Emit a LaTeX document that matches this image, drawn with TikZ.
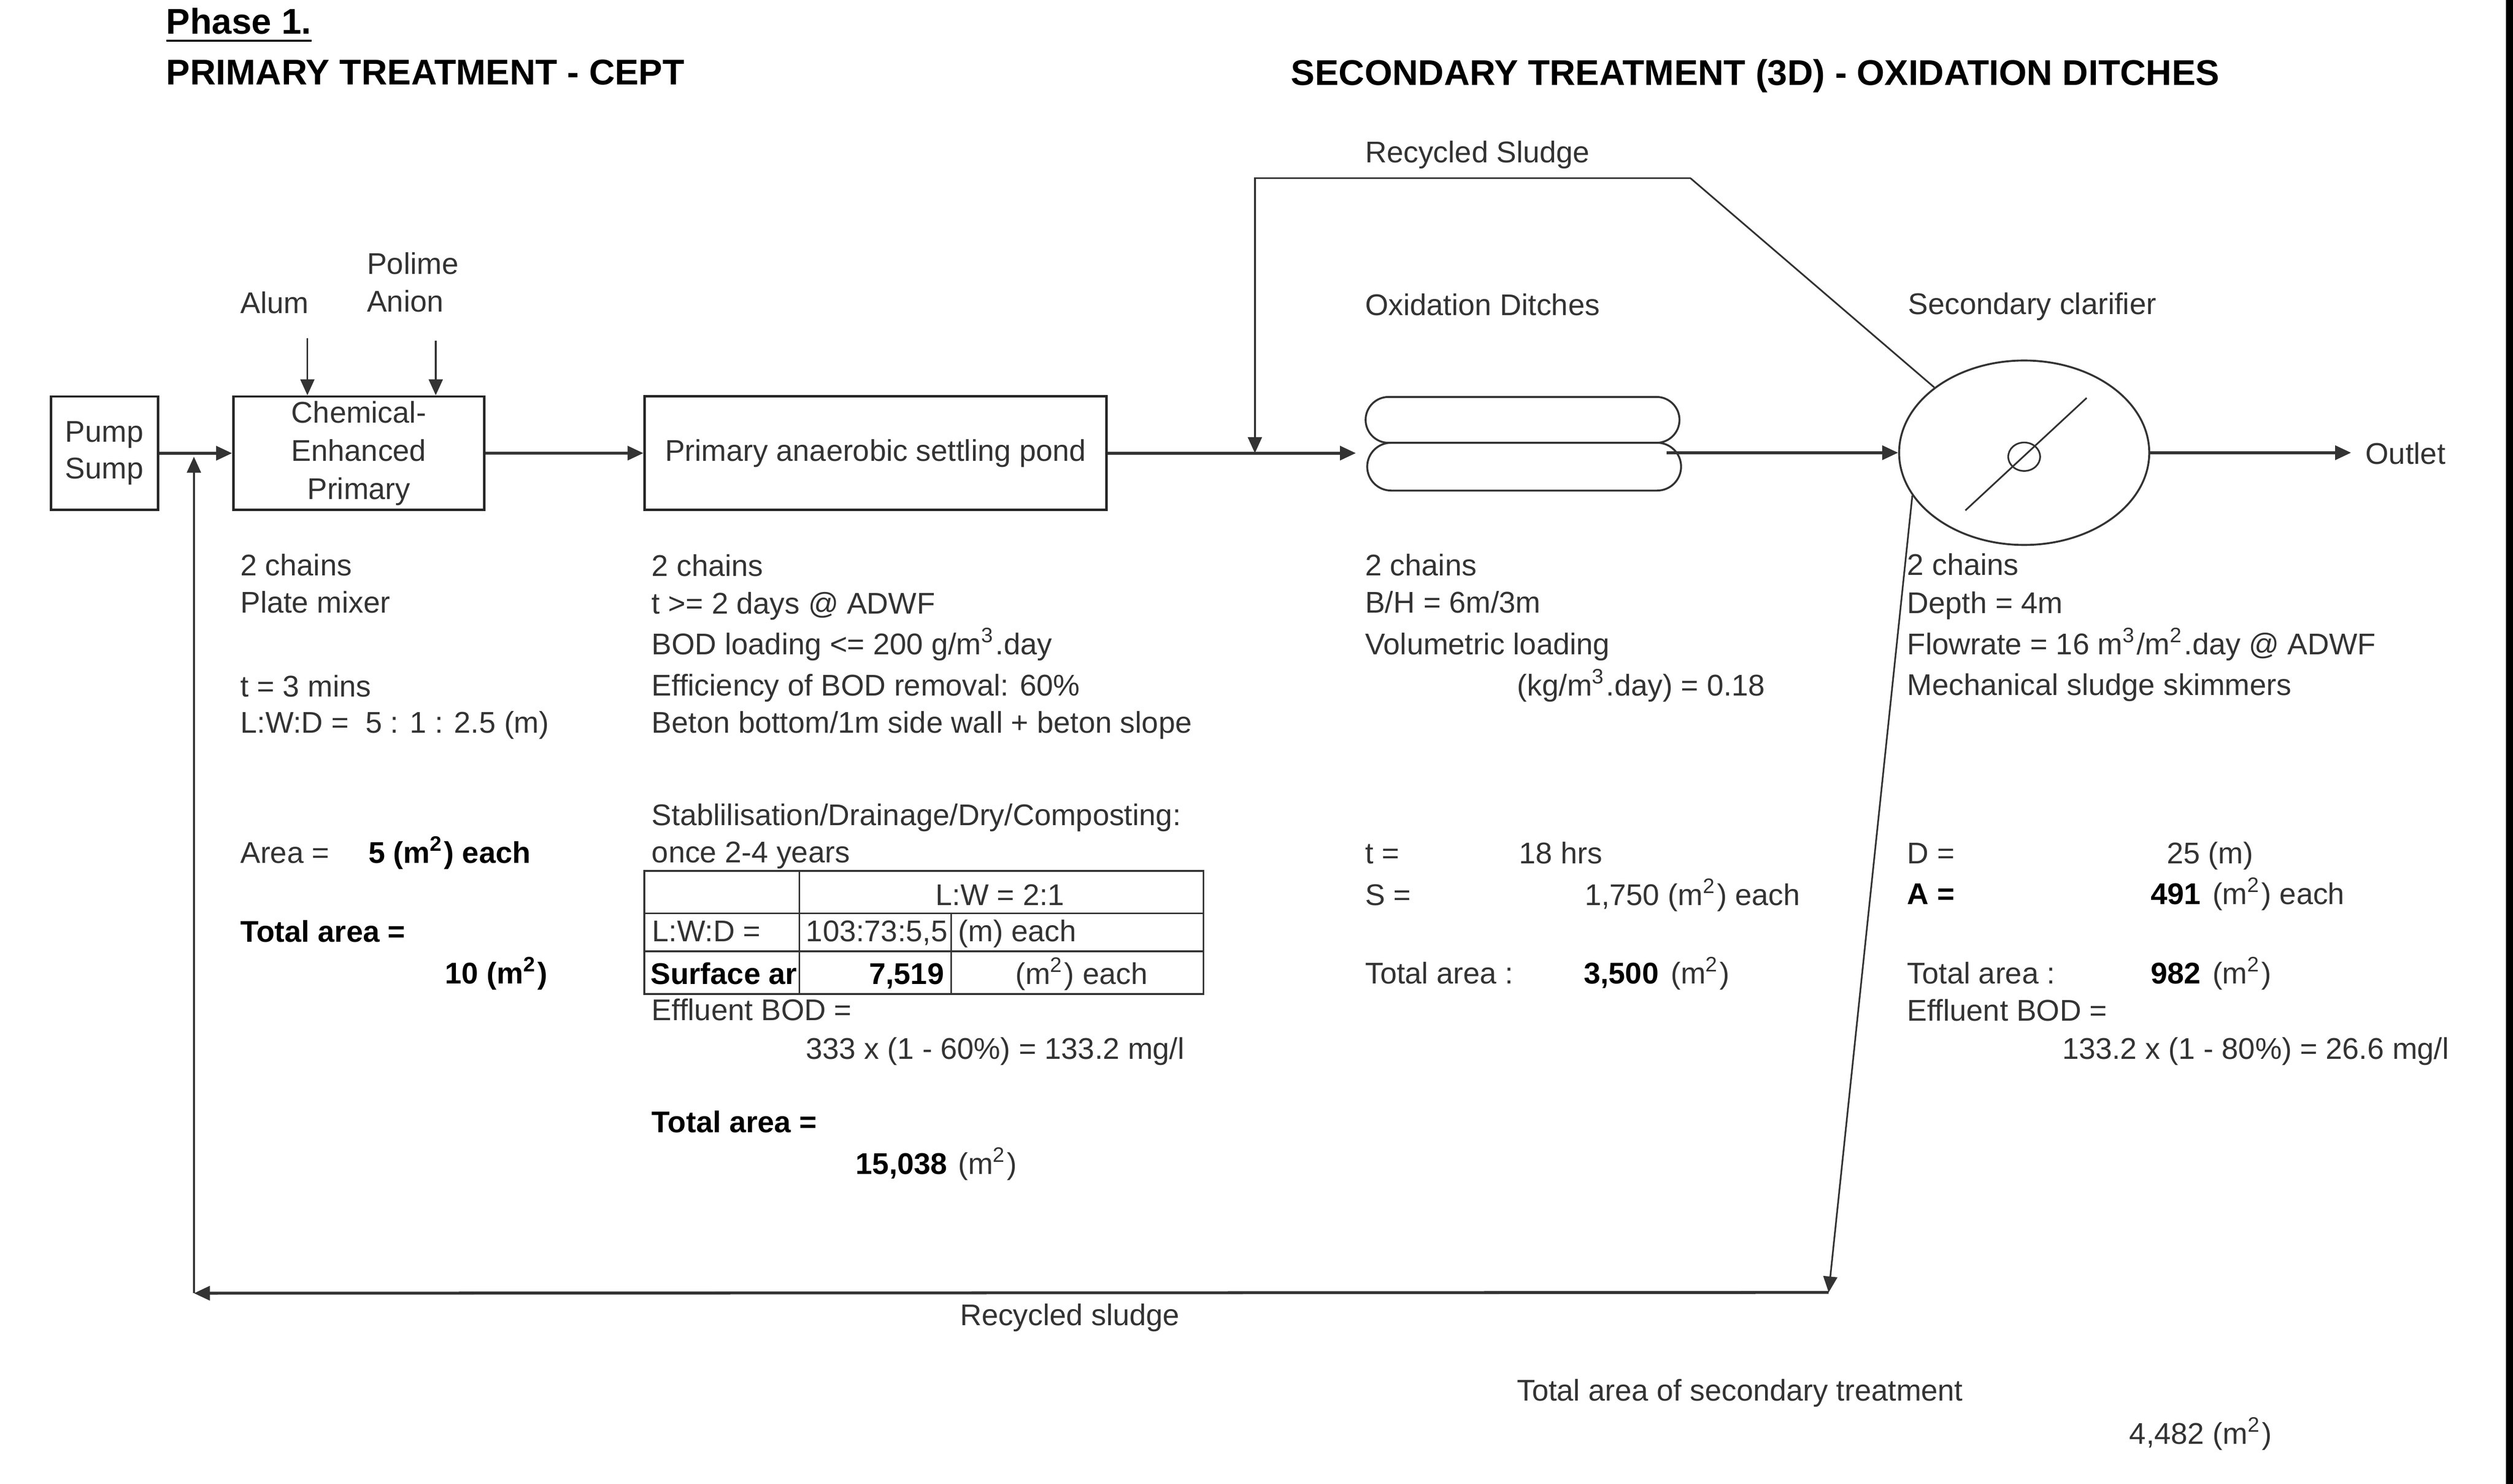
\documentclass[tikz,border=0pt]{standalone}
\usepackage{fontspec}
\setmainfont{Liberation Sans}
\usetikzlibrary{arrows.meta,shapes.misc,shapes.geometric}
\newcommand{\sqmx}{m\textsuperscript{2}}
\newcommand{\cbmx}{m\textsuperscript{3}}
\begin{document}
\begin{tikzpicture}[x=0.3319pt,y=-0.3319pt,
  txt/.style={anchor=base west,inner sep=0pt,outer sep=0pt,font=\fontsize{6.2}{7.5}\selectfont,text=black!80},
  bt/.style={txt,font=\fontsize{6.2}{7.5}\selectfont\bfseries,text=black},
  ttl/.style={anchor=base west,inner sep=0pt,outer sep=0pt,font=\fontsize{7.4}{9}\selectfont\bfseries,text=black},
  box/.style={draw=black!85,line width=0.5pt,rectangle,inner sep=0pt,align=center,minimum height=23.5pt,font=\fontsize{6.2}{7.6}\selectfont,text=black!80},
  tip/.style={-{Triangle[length=3.3pt,width=2.9pt]}},
  flow/.style={draw=black!80,line width=0.6pt,tip},
  thin/.style={draw=black!80,line width=0.35pt},
  thinar/.style={thin,tip},
  ditch/.style={draw=black!80,line width=0.4pt,rounded rectangle,minimum width=65pt,inner sep=0pt},
]
\useasboundingbox (0,0) rectangle (1568,926);
\fill[black] (1563.5,0) rectangle (1567.9,926);

% titles
\node[ttl] (phase) at (103.8,21) {\underline{Phase 1.}};
\node[ttl] (ptitle) at (103.8,52.8) {PRIMARY TREATMENT - CEPT};
\node[ttl] (stitle) at (805.6,53) {SECONDARY TREATMENT (3D) - OXIDATION DITCHES};

% process boxes
\node[box,minimum width=22.2pt] (pump) at (65.15,282.8) {Pump\\Sump};
\node[box,minimum width=52pt,font=\fontsize{6.2}{7.9}\selectfont] (cep) at (223.9,282.8) {Chemical-\\Enhanced\\Primary};
\node[box,minimum width=95.6pt] (pond) at (546.25,282.75) {Primary anaerobic settling pond};

% chemicals
\node[txt] (alum) at (150,195.5) {Alum};
\node[txt] (polime) at (229,171) {Polime};
\node[txt] (anion) at (229,194.5) {Anion};
\coordinate (alumS) at (191.8,211);
\coordinate (anionS) at (271.9,212.5);
\draw[thinar] (alumS) -- (alumS |- cep.north);
\draw[thinar] (anionS) -- (anionS |- cep.north);

% oxidation ditches and clarifier
\node[ditch,minimum height=9.5pt] (ditchA) at (950,262) {};
\node[ditch,minimum height=9.9pt] (ditchB) at (951,291.2) {};
\node[draw=black!80,line width=0.4pt,ellipse,inner sep=0pt,minimum width=51.8pt,minimum height=38.2pt] (clar) at (1263,282.5) {};
\node[draw=black!80,line width=0.35pt,ellipse,inner sep=0pt,minimum width=6.6pt,minimum height=5.9pt] (clarIn) at (1263,285) {};
\coordinate (skA) at (1226.3,318.5);
\coordinate (skB) at (1302,248.3);
\draw[thin] (skA) -- (skB);

% main flow
\coordinate (dIn) at (846,282.75);
\coordinate (dOut) at (1040,282.5);
\coordinate (outTip) at (1467,282.5);
\draw[flow] (pump.east) -- (cep.west);
\draw[flow] (cep.east) -- (pond.west);
\draw[flow] (pond.east) -- (dIn);
\draw[flow] (dOut) -- (clar.west);
\draw[flow] (clar.east) -- (outTip);
\node[txt] (outlet) at (1476,289.6) {Outlet};

% recycled sludge (top)
\coordinate (rsA) at (783,111.2);
\coordinate (rsB) at (1054.8,111.2);
\coordinate (rsC) at (783,282.75);
\draw[thinar] (rsB) -- (rsA) -- (rsC);
\draw[thin] (rsB) -- (clar.144.5);
\node[txt] (rstop) at (851.8,101.5) {Recycled Sludge};

% recycled sludge (bottom)
\coordinate (rtB) at (1141,806.5);
\coordinate (rtC) at (121,807);
\coordinate (rtD) at (121,285);
\draw[thinar] (clar.201) -- (rtB);
\draw[flow] (rtB) -- (rtC);
\draw[thinar] (rtC) -- (rtD);
\node[txt] (rsbot) at (599,827) {Recycled sludge};

% section labels
\node[txt] (oxl) at (851.8,196.8) {Oxidation Ditches};
\node[txt] (scl) at (1190.7,196) {Secondary clarifier};

% CEPT column
\node[txt] (c1) at (150,359.3) {2 chains};
\node[txt] (c2) at (150,382.3) {Plate mixer};
\node[txt] (c3) at (150,434.8) {t = 3 mins};
\node[txt] (c4) at (150,457.3) {L:W:D =\ \ 5 : 1 : 2.5 (m)};
\node[txt] (c5) at (150,538.6) {Area =};
\node[bt] (c6) at (229.9,538.6) {5 (\sqmx) each};
\node[bt] (c7) at (150,587.8) {Total area =};
\node[bt] (c8) at (277.8,613.9) {10 (\sqmx)};

% pond column
\node[txt] (p1) at (406.7,359.5) {2 chains};
\node[txt] (p2) at (406.7,383) {t >= 2 days @ ADWF};
\node[txt] (p3) at (406.7,408.6) {BOD loading <= 200 g/\cbmx.day};
\node[txt] (p4) at (406.7,434.1) {Efficiency of BOD removal: 60\%};
\node[txt] (p5) at (406.7,457.3) {Beton bottom/1m side wall + beton slope};
\node[txt] (p6) at (406.7,515) {Stablilisation/Drainage/Dry/Composting:};
\node[txt] (p7) at (406.7,538.3) {once 2-4 years};
% table
\draw[thin] (402,543.5) rectangle (751,620.3);
\draw[thin] (402,570) -- (751,570);
\draw[thin] (402,593.6) -- (751,593.6);
\draw[thin] (498.7,543.5) -- (498.7,620.3);
\draw[thin] (593.5,570) -- (593.5,620.3);
\node[txt,anchor=base] (tb1) at (624,565) {L:W = 2:1};
\node[txt] (tb2) at (407,587.5) {L:W:D =};
\node[txt] (tb3) at (503,587.5) {103:73:5,5};
\node[txt] (tb4) at (598,587.5) {(m) each};
\node[bt] (tb5) at (406,614.3) {Surface ar};
\node[bt,anchor=base east] (tb6) at (589,614.3) {7,519};
\node[txt] (tb7) at (633.6,614.3) {(\sqmx) each};
\node[txt] (p8) at (406.7,636.9) {Effluent BOD =};
\node[txt] (p9) at (502.9,661) {333 x (1 - 60\%) = 133.2 mg/l};
\node[bt] (p10) at (406.7,706.8) {Total area =};
\node[bt] (p11) at (534,732.8) {15,038};
\node[txt] (p12) at (597.8,732.8) {(\sqmx)};

% ditches column
\node[txt] (o1) at (851.8,359.3) {2 chains};
\node[txt] (o2) at (851.8,382.3) {B/H = 6m/3m};
\node[txt] (o3) at (851.8,408.3) {Volumetric loading};
\node[txt] (o4) at (946.7,434.2) {(kg/\cbmx.day) = 0.18};
\node[txt] (o5) at (851.8,539) {t =};
\node[txt] (o6) at (947.9,539) {18 hrs};
\node[txt] (o7) at (851.8,565) {S =};
\node[txt] (o8) at (988.8,565) {1,750 (\sqmx) each};
\node[txt] (o9) at (851.8,613.9) {Total area :};
\node[bt] (o10) at (988.2,613.9) {3,500};
\node[txt] (o11) at (1042.5,613.9) {(\sqmx)};

% clarifier column
\node[txt] (s1) at (1190,359) {2 chains};
\node[txt] (s2) at (1190,382.6) {Depth = 4m};
\node[txt] (s3) at (1190,408.6) {Flowrate = 16 \cbmx/\sqmx.day @ ADWF};
\node[txt] (s4) at (1190,434) {Mechanical sludge skimmers};
\node[txt] (s5) at (1190,539) {D =};
\node[txt] (s6) at (1352,539) {25 (m)};
\node[bt] (s7) at (1190,564.4) {A =};
\node[bt] (s8) at (1342,564.4) {491};
\node[txt] (s9) at (1380.5,564.4) {(\sqmx) each};
\node[txt] (s10) at (1190,613.9) {Total area :};
\node[bt] (s11) at (1342,613.9) {982};
\node[txt] (s12) at (1380.5,613.9) {(\sqmx)};
\node[txt] (s13) at (1190,637) {Effluent BOD =};
\node[txt] (s14) at (1286.7,661) {133.2 x (1 - 80\%) = 26.6 mg/l};

% totals
\node[txt] (tot1) at (946.5,874) {Total area of secondary treatment};
\node[txt] (tot2) at (1328.7,901.2) {4,482 (\sqmx)};
\end{tikzpicture}
\end{document}
